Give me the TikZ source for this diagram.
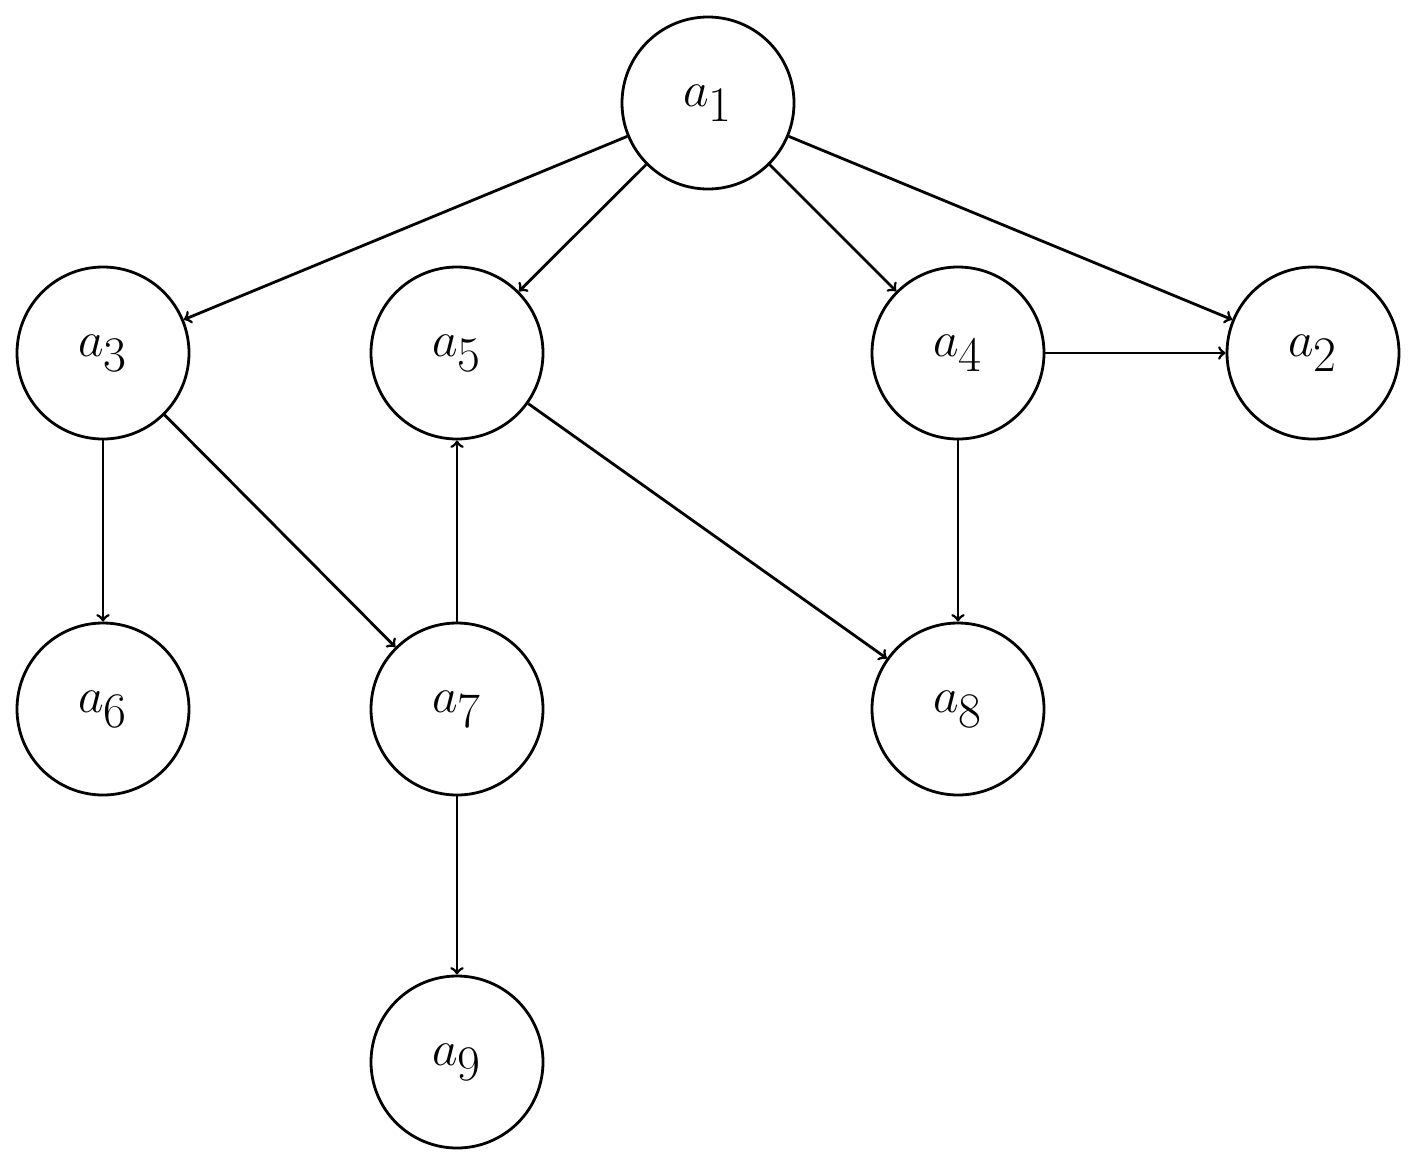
\documentclass[tikz,border=0pt]{standalone}
\begin{document}
\begin{tikzpicture}[x=0.5pt,y=-0.5pt,
  st/.style={circle,draw,line width=1.4pt,minimum size=86pt,inner sep=0pt,font=\fontsize{36}{40}\selectfont},
  ed/.style={->,line width=1.4pt}]
\useasboundingbox (0,0) rectangle (1419,1163);
\node[st] (a1) at (708,103) {$a_1$};
\node[st] (a3) at (103,353) {$a_3$};
\node[st] (a5) at (457,353) {$a_5$};
\node[st] (a4) at (958,353) {$a_4$};
\node[st] (a2) at (1313,353) {$a_2$};
\node[st] (a6) at (103,709) {$a_6$};
\node[st] (a7) at (457,709) {$a_7$};
\node[st] (a8) at (958,709) {$a_8$};
\node[st] (a9) at (457,1062) {$a_9$};
\draw[ed] (a1) -- (a3);
\draw[ed] (a1) -- (a5);
\draw[ed] (a1) -- (a4);
\draw[ed] (a1) -- (a2);
\draw[ed] (a4) -- (a2);
\draw[ed] (a3) -- (a6);
\draw[ed] (a3) -- (a7);
\draw[ed] (a7) -- (a5);
\draw[ed] (a5) -- (a8);
\draw[ed] (a4) -- (a8);
\draw[ed] (a7) -- (a9);
\end{tikzpicture}
\end{document}
